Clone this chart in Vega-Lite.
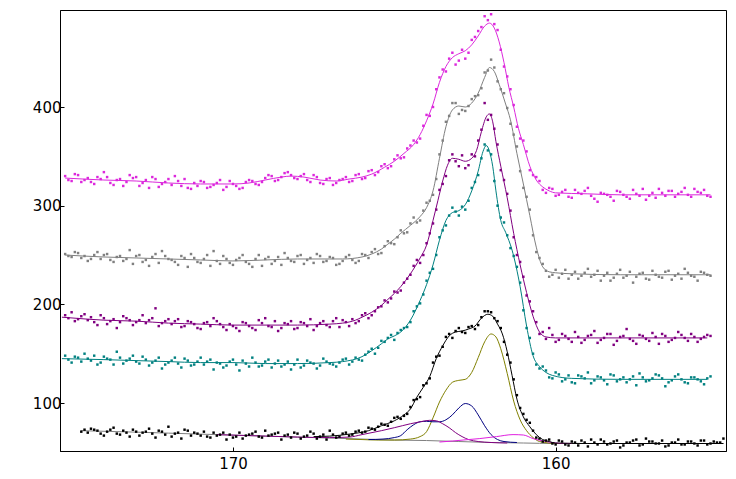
{
"$schema":"https://vega.github.io/schema/vega-lite/v6.json",
"width":666,"height":441,
"autosize":{"type":"none"},
"padding":{"left":60,"top":10,"right":10,"bottom":28},
"config":{"view":{"stroke":"#000","strokeWidth":1},"font":"DejaVu Sans",
"axis":{"grid":false,"title":null,"domainColor":"#000","tickColor":"#000","labelColor":"#000","labelFontSize":15,"labelFont":"DejaVu Sans","tickSize":-4}},
"datasets":{
"lines":[
{"s":"bg","x":174.7,"y":72},{"s":"bg","x":173,"y":70.5},{"s":"bg","x":172,"y":69.5},{"s":"bg","x":171,"y":68.5},{"s":"bg","x":170,"y":67.5},{"s":"bg","x":169,"y":66.5},{"s":"bg","x":168,"y":65.5},{"s":"bg","x":167,"y":64.5},{"s":"bg","x":166,"y":63.5},{"s":"bg","x":165,"y":62.5},{"s":"bg","x":164,"y":62},{"s":"bg","x":163,"y":61},{"s":"bg","x":162,"y":60},{"s":"bg","x":161,"y":59.5},{"s":"bg","x":160,"y":59},{"s":"bg","x":154.8,"y":59},
{"s":"ol","x":166.5,"y":63.5},{"s":"ol","x":166,"y":63},{"s":"ol","x":165.5,"y":62.5},{"s":"ol","x":165,"y":62.5},{"s":"ol","x":164.5,"y":63.5},{"s":"ol","x":164.2,"y":66},{"s":"ol","x":164,"y":71},{"s":"ol","x":163.8,"y":85},{"s":"ol","x":163.6,"y":101},{"s":"ol","x":163.4,"y":113},{"s":"ol","x":163.2,"y":121},{"s":"ol","x":163,"y":123},{"s":"ol","x":162.8,"y":124},{"s":"ol","x":162.6,"y":131},{"s":"ol","x":162.4,"y":146},{"s":"ol","x":162.2,"y":162},{"s":"ol","x":162,"y":170},{"s":"ol","x":161.85,"y":167},{"s":"ol","x":161.7,"y":155},{"s":"ol","x":161.5,"y":130},{"s":"ol","x":161.3,"y":102},{"s":"ol","x":161.1,"y":83},{"s":"ol","x":160.9,"y":72},{"s":"ol","x":160.7,"y":65},{"s":"ol","x":160.5,"y":61},{"s":"ol","x":160.2,"y":59.5},{"s":"ol","x":160,"y":59},{"s":"ol","x":159.5,"y":59},
{"s":"nv","x":165.8,"y":63},{"s":"nv","x":165.35,"y":63.5},{"s":"nv","x":165,"y":65},{"s":"nv","x":164.8,"y":67},{"s":"nv","x":164.6,"y":73},{"s":"nv","x":164.4,"y":78},{"s":"nv","x":164.2,"y":81},{"s":"nv","x":164,"y":81.5},{"s":"nv","x":163.8,"y":81},{"s":"nv","x":163.6,"y":81},{"s":"nv","x":163.4,"y":83},{"s":"nv","x":163.2,"y":88},{"s":"nv","x":163,"y":95},{"s":"nv","x":162.8,"y":99.5},{"s":"nv","x":162.6,"y":97},{"s":"nv","x":162.4,"y":88},{"s":"nv","x":162.2,"y":77},{"s":"nv","x":162,"y":68},{"s":"nv","x":161.8,"y":63},{"s":"nv","x":161.6,"y":61},{"s":"nv","x":161.2,"y":60},
{"s":"pc","x":170.5,"y":68},{"s":"pc","x":169,"y":66.5},{"s":"pc","x":168,"y":65.5},{"s":"pc","x":167,"y":65},{"s":"pc","x":166.4,"y":65.5},{"s":"pc","x":166,"y":68},{"s":"pc","x":165.4,"y":72},{"s":"pc","x":165,"y":75},{"s":"pc","x":164.5,"y":79},{"s":"pc","x":164.2,"y":81},{"s":"pc","x":163.9,"y":82.5},{"s":"pc","x":163.7,"y":82},{"s":"pc","x":163.5,"y":79},{"s":"pc","x":163.3,"y":75},{"s":"pc","x":163.1,"y":70},{"s":"pc","x":162.9,"y":66},{"s":"pc","x":162.7,"y":63},{"s":"pc","x":162.4,"y":61},{"s":"pc","x":162,"y":60},{"s":"pc","x":161.5,"y":59.5},
{"s":"mg","x":163.6,"y":60.5},{"s":"mg","x":163.2,"y":61.5},{"s":"mg","x":162.87,"y":62.5},{"s":"mg","x":162.35,"y":64},{"s":"mg","x":161.83,"y":66},{"s":"mg","x":161.32,"y":68},{"s":"mg","x":161,"y":67.6},{"s":"mg","x":160.7,"y":64},{"s":"mg","x":160.3,"y":61},{"s":"mg","x":159.9,"y":59.2},{"s":"mg","x":159.5,"y":59},
{"s":"k","x":167.5,"y":66},{"s":"k","x":167,"y":66.5},{"s":"k","x":166.4,"y":68.5},{"s":"k","x":165.8,"y":72},{"s":"k","x":165.4,"y":77},{"s":"k","x":165,"y":82},{"s":"k","x":164.7,"y":88},{"s":"k","x":164.5,"y":94},{"s":"k","x":164.3,"y":106},{"s":"k","x":164.1,"y":116},{"s":"k","x":163.9,"y":127},{"s":"k","x":163.7,"y":145},{"s":"k","x":163.5,"y":158},{"s":"k","x":163.3,"y":168},{"s":"k","x":163.1,"y":172},{"s":"k","x":162.9,"y":173},{"s":"k","x":162.7,"y":175},{"s":"k","x":162.5,"y":178},{"s":"k","x":162.3,"y":186},{"s":"k","x":162.1,"y":190},{"s":"k","x":161.95,"y":188},{"s":"k","x":161.8,"y":180},{"s":"k","x":161.65,"y":170},{"s":"k","x":161.5,"y":152},{"s":"k","x":161.35,"y":128},{"s":"k","x":161.2,"y":104},{"s":"k","x":161,"y":86},{"s":"k","x":160.8,"y":76},{"s":"k","x":160.6,"y":68},{"s":"k","x":160.4,"y":63},{"s":"k","x":160.2,"y":61},{"s":"k","x":160,"y":59.5},{"s":"k","x":159,"y":59},{"s":"k","x":154.8,"y":59},
{"s":"t","x":175.3,"y":145},{"s":"t","x":174,"y":144},{"s":"t","x":173,"y":143},{"s":"t","x":172,"y":142},{"s":"t","x":171,"y":141},{"s":"t","x":170,"y":141},{"s":"t","x":169,"y":140},{"s":"t","x":168,"y":140},{"s":"t","x":167,"y":141},{"s":"t","x":166.6,"y":142},{"s":"t","x":166,"y":147},{"s":"t","x":165.7,"y":153},{"s":"t","x":165.4,"y":160},{"s":"t","x":165.2,"y":165},{"s":"t","x":165,"y":168},{"s":"t","x":164.8,"y":172},{"s":"t","x":164.5,"y":184},{"s":"t","x":164.2,"y":204},{"s":"t","x":164,"y":220},{"s":"t","x":163.8,"y":240},{"s":"t","x":163.6,"y":265},{"s":"t","x":163.4,"y":285},{"s":"t","x":163.2,"y":293},{"s":"t","x":163,"y":295},{"s":"t","x":162.8,"y":301},{"s":"t","x":162.6,"y":315},{"s":"t","x":162.4,"y":335},{"s":"t","x":162.25,"y":355},{"s":"t","x":162.15,"y":361},{"s":"t","x":162.05,"y":355},{"s":"t","x":161.95,"y":340},{"s":"t","x":161.85,"y":315},{"s":"t","x":161.7,"y":285},{"s":"t","x":161.55,"y":273},{"s":"t","x":161.35,"y":255},{"s":"t","x":161.1,"y":218},{"s":"t","x":160.9,"y":178},{"s":"t","x":160.7,"y":148},{"s":"t","x":160.5,"y":137},{"s":"t","x":160.3,"y":131},{"s":"t","x":160.1,"y":128},{"s":"t","x":159.5,"y":125},{"s":"t","x":158,"y":124},{"s":"t","x":155.3,"y":124},
{"s":"u","x":175.3,"y":187},{"s":"u","x":174.5,"y":185},{"s":"u","x":174,"y":184},{"s":"u","x":173,"y":183},{"s":"u","x":172,"y":181},{"s":"u","x":171,"y":180},{"s":"u","x":170,"y":179},{"s":"u","x":168,"y":179},{"s":"u","x":167,"y":180},{"s":"u","x":166.6,"y":181},{"s":"u","x":166.2,"y":184},{"s":"u","x":166,"y":187},{"s":"u","x":165.7,"y":192},{"s":"u","x":165.4,"y":199},{"s":"u","x":165.2,"y":205},{"s":"u","x":165,"y":211},{"s":"u","x":164.8,"y":218},{"s":"u","x":164.5,"y":231},{"s":"u","x":164.2,"y":247},{"s":"u","x":164,"y":260},{"s":"u","x":163.8,"y":285},{"s":"u","x":163.65,"y":305},{"s":"u","x":163.5,"y":325},{"s":"u","x":163.35,"y":341},{"s":"u","x":163.2,"y":348},{"s":"u","x":163,"y":347},{"s":"u","x":162.8,"y":345},{"s":"u","x":162.6,"y":348},{"s":"u","x":162.45,"y":356},{"s":"u","x":162.3,"y":375},{"s":"u","x":162.15,"y":390},{"s":"u","x":162.05,"y":393},{"s":"u","x":161.95,"y":385},{"s":"u","x":161.85,"y":365},{"s":"u","x":161.7,"y":340},{"s":"u","x":161.5,"y":308},{"s":"u","x":161.3,"y":272},{"s":"u","x":161.1,"y":240},{"s":"u","x":160.9,"y":212},{"s":"u","x":160.7,"y":188},{"s":"u","x":160.5,"y":172},{"s":"u","x":160.3,"y":167},{"s":"u","x":160,"y":166},{"s":"u","x":155.3,"y":166},
{"s":"g","x":175.2,"y":250},{"s":"g","x":174,"y":248},{"s":"g","x":173,"y":247},{"s":"g","x":172,"y":246},{"s":"g","x":171,"y":245},{"s":"g","x":170,"y":244},{"s":"g","x":169,"y":245},{"s":"g","x":168,"y":246},{"s":"g","x":167,"y":246},{"s":"g","x":166.6,"y":246},{"s":"g","x":166,"y":248},{"s":"g","x":165.7,"y":251},{"s":"g","x":165.4,"y":256},{"s":"g","x":165.2,"y":261},{"s":"g","x":165,"y":266},{"s":"g","x":164.8,"y":272},{"s":"g","x":164.5,"y":280},{"s":"g","x":164.2,"y":289},{"s":"g","x":164,"y":298},{"s":"g","x":163.8,"y":315},{"s":"g","x":163.6,"y":348},{"s":"g","x":163.4,"y":380},{"s":"g","x":163.2,"y":397},{"s":"g","x":163,"y":401},{"s":"g","x":162.8,"y":400},{"s":"g","x":162.6,"y":404},{"s":"g","x":162.4,"y":414},{"s":"g","x":162.2,"y":430},{"s":"g","x":162.05,"y":440},{"s":"g","x":161.9,"y":436},{"s":"g","x":161.75,"y":423},{"s":"g","x":161.55,"y":403},{"s":"g","x":161.4,"y":387},{"s":"g","x":161.2,"y":353},{"s":"g","x":161,"y":322},{"s":"g","x":160.8,"y":290},{"s":"g","x":160.6,"y":258},{"s":"g","x":160.4,"y":238},{"s":"g","x":160.2,"y":233},{"s":"g","x":160,"y":232},{"s":"g","x":159.5,"y":231},{"s":"g","x":158,"y":230},{"s":"g","x":155.2,"y":230},
{"s":"p","x":175.2,"y":328},{"s":"p","x":174,"y":326},{"s":"p","x":173,"y":325},{"s":"p","x":172,"y":323},{"s":"p","x":171,"y":322},{"s":"p","x":170,"y":322},{"s":"p","x":169.5,"y":323},{"s":"p","x":169,"y":326},{"s":"p","x":168.5,"y":329},{"s":"p","x":168.2,"y":330},{"s":"p","x":167.8,"y":329},{"s":"p","x":167.3,"y":326},{"s":"p","x":166.8,"y":325},{"s":"p","x":166.4,"y":327},{"s":"p","x":166,"y":329},{"s":"p","x":165.7,"y":332},{"s":"p","x":165.3,"y":339},{"s":"p","x":165,"y":345},{"s":"p","x":164.7,"y":353},{"s":"p","x":164.4,"y":362},{"s":"p","x":164.2,"y":372},{"s":"p","x":164,"y":386},{"s":"p","x":163.8,"y":403},{"s":"p","x":163.6,"y":425},{"s":"p","x":163.4,"y":441},{"s":"p","x":163.2,"y":450},{"s":"p","x":163,"y":454},{"s":"p","x":162.8,"y":457},{"s":"p","x":162.6,"y":463},{"s":"p","x":162.4,"y":472},{"s":"p","x":162.2,"y":482},{"s":"p","x":162.05,"y":485},{"s":"p","x":161.9,"y":480},{"s":"p","x":161.75,"y":466},{"s":"p","x":161.6,"y":445},{"s":"p","x":161.45,"y":420},{"s":"p","x":161.3,"y":400},{"s":"p","x":161.15,"y":378},{"s":"p","x":161,"y":362},{"s":"p","x":160.8,"y":340},{"s":"p","x":160.6,"y":326},{"s":"p","x":160.4,"y":319},{"s":"p","x":160.2,"y":315},{"s":"p","x":160,"y":313},{"s":"p","x":159,"y":312},{"s":"p","x":158,"y":311},{"s":"p","x":155.2,"y":311}
],
"pts":[
{"s":"p","x":175.2,"y":330},{"s":"p","x":175.0,"y":325},{"s":"p","x":174.8,"y":331},{"s":"p","x":174.6,"y":326},{"s":"p","x":174.4,"y":324},{"s":"p","x":174.2,"y":329},{"s":"p","x":174.0,"y":334},{"s":"p","x":173.8,"y":323},{"s":"p","x":173.6,"y":326},{"s":"p","x":173.4,"y":320},{"s":"p","x":173.2,"y":331},{"s":"p","x":173.0,"y":329},{"s":"p","x":172.8,"y":323},{"s":"p","x":172.6,"y":318},{"s":"p","x":172.4,"y":327},{"s":"p","x":172.2,"y":322},{"s":"p","x":172.0,"y":327},{"s":"p","x":171.8,"y":330},{"s":"p","x":171.6,"y":320},{"s":"p","x":171.4,"y":318},{"s":"p","x":171.2,"y":323},{"s":"p","x":171.0,"y":325},{"s":"p","x":170.8,"y":318},{"s":"p","x":170.6,"y":321},{"s":"p","x":170.4,"y":326},{"s":"p","x":170.2,"y":319},{"s":"p","x":170.0,"y":322},{"s":"p","x":169.8,"y":317},{"s":"p","x":169.6,"y":324},{"s":"p","x":169.4,"y":325},{"s":"p","x":169.2,"y":321},{"s":"p","x":169.0,"y":328},{"s":"p","x":168.8,"y":330},{"s":"p","x":168.6,"y":326},{"s":"p","x":168.4,"y":333},{"s":"p","x":168.2,"y":331},{"s":"p","x":168.0,"y":327},{"s":"p","x":167.8,"y":332},{"s":"p","x":167.6,"y":324},{"s":"p","x":167.4,"y":329},{"s":"p","x":167.2,"y":322},{"s":"p","x":167.0,"y":328},{"s":"p","x":166.8,"y":323},{"s":"p","x":166.6,"y":327},{"s":"p","x":166.4,"y":324},{"s":"p","x":166.2,"y":331},{"s":"p","x":166.0,"y":327},{"s":"p","x":165.8,"y":335},{"s":"p","x":165.6,"y":331},{"s":"p","x":165.4,"y":340},{"s":"p","x":165.2,"y":338},{"s":"p","x":165.0,"y":347},{"s":"p","x":164.8,"y":348},{"s":"p","x":164.6,"y":358},{"s":"p","x":164.4,"y":366},{"s":"p","x":164.2,"y":368},{"s":"p","x":164.0,"y":392},{"s":"p","x":163.8,"y":400},{"s":"p","x":163.6,"y":430},{"s":"p","x":163.4,"y":436},{"s":"p","x":163.2,"y":455},{"s":"p","x":163.0,"y":447},{"s":"p","x":162.8,"y":449},{"s":"p","x":162.6,"y":468},{"s":"p","x":162.4,"y":477},{"s":"p","x":162.2,"y":492},{"s":"p","x":162.0,"y":494},{"s":"p","x":161.8,"y":478},{"s":"p","x":161.6,"y":441},{"s":"p","x":161.4,"y":418},{"s":"p","x":161.2,"y":380},{"s":"p","x":161.0,"y":366},{"s":"p","x":160.8,"y":336},{"s":"p","x":160.6,"y":329},{"s":"p","x":160.4,"y":316},{"s":"p","x":160.2,"y":318},{"s":"p","x":160.0,"y":310},{"s":"p","x":159.8,"y":314},{"s":"p","x":159.6,"y":309},{"s":"p","x":159.4,"y":316},{"s":"p","x":159.2,"y":312},{"s":"p","x":159.0,"y":318},{"s":"p","x":158.8,"y":307},{"s":"p","x":158.6,"y":313},{"s":"p","x":158.4,"y":311},{"s":"p","x":158.2,"y":305},{"s":"p","x":158.0,"y":314},{"s":"p","x":157.8,"y":309},{"s":"p","x":157.6,"y":316},{"s":"p","x":157.4,"y":310},{"s":"p","x":157.2,"y":306},{"s":"p","x":157.0,"y":313},{"s":"p","x":156.8,"y":317},{"s":"p","x":156.6,"y":310},{"s":"p","x":156.4,"y":315},{"s":"p","x":156.2,"y":312},{"s":"p","x":156.0,"y":318},{"s":"p","x":155.8,"y":309},{"s":"p","x":155.6,"y":314},{"s":"p","x":155.4,"y":316},{"s":"p","x":155.2,"y":309},
{"s":"p","x":175.1,"y":326},{"s":"p","x":174.9,"y":332},{"s":"p","x":174.7,"y":324},{"s":"p","x":174.5,"y":328},{"s":"p","x":174.3,"y":322},{"s":"p","x":174.1,"y":327},{"s":"p","x":173.9,"y":329},{"s":"p","x":173.7,"y":321},{"s":"p","x":173.5,"y":327},{"s":"p","x":173.3,"y":324},{"s":"p","x":173.1,"y":328},{"s":"p","x":172.9,"y":320},{"s":"p","x":172.7,"y":326},{"s":"p","x":172.5,"y":329},{"s":"p","x":172.3,"y":319},{"s":"p","x":172.1,"y":324},{"s":"p","x":171.9,"y":321},{"s":"p","x":171.7,"y":325},{"s":"p","x":171.5,"y":327},{"s":"p","x":171.3,"y":317},{"s":"p","x":171.1,"y":320},{"s":"p","x":170.9,"y":324},{"s":"p","x":170.7,"y":319},{"s":"p","x":170.5,"y":323},{"s":"p","x":170.3,"y":316},{"s":"p","x":170.1,"y":325},{"s":"p","x":169.9,"y":320},{"s":"p","x":169.7,"y":318},{"s":"p","x":169.5,"y":326},{"s":"p","x":169.3,"y":322},{"s":"p","x":169.1,"y":324},{"s":"p","x":168.9,"y":331},{"s":"p","x":168.7,"y":325},{"s":"p","x":168.5,"y":329},{"s":"p","x":168.3,"y":334},{"s":"p","x":168.1,"y":328},{"s":"p","x":167.9,"y":330},{"s":"p","x":167.7,"y":326},{"s":"p","x":167.5,"y":331},{"s":"p","x":167.3,"y":323},{"s":"p","x":167.1,"y":327},{"s":"p","x":166.9,"y":321},{"s":"p","x":166.7,"y":326},{"s":"p","x":166.5,"y":329},{"s":"p","x":166.3,"y":325},{"s":"p","x":166.1,"y":332},{"s":"p","x":165.9,"y":328},{"s":"p","x":165.7,"y":336},{"s":"p","x":165.5,"y":334},{"s":"p","x":165.3,"y":342},{"s":"p","x":165.1,"y":340},{"s":"p","x":164.9,"y":351},{"s":"p","x":164.7,"y":349},{"s":"p","x":164.5,"y":361},{"s":"p","x":164.3,"y":364},{"s":"p","x":164.1,"y":381},{"s":"p","x":163.9,"y":391},{"s":"p","x":163.7,"y":418},{"s":"p","x":163.5,"y":438},{"s":"p","x":163.3,"y":449},{"s":"p","x":163.1,"y":443},{"s":"p","x":162.9,"y":458},{"s":"p","x":162.7,"y":455},{"s":"p","x":162.5,"y":471},{"s":"p","x":162.3,"y":481},{"s":"p","x":162.1,"y":488},{"s":"p","x":161.9,"y":484},{"s":"p","x":161.7,"y":458},{"s":"p","x":161.5,"y":431},{"s":"p","x":161.3,"y":402},{"s":"p","x":161.1,"y":368},{"s":"p","x":160.9,"y":355},{"s":"p","x":160.7,"y":331},{"s":"p","x":160.5,"y":325},{"s":"p","x":160.3,"y":313},{"s":"p","x":160.1,"y":317},{"s":"p","x":159.9,"y":311},{"s":"p","x":159.7,"y":316},{"s":"p","x":159.5,"y":308},{"s":"p","x":159.3,"y":313},{"s":"p","x":159.1,"y":315},{"s":"p","x":158.9,"y":310},{"s":"p","x":158.7,"y":304},{"s":"p","x":158.5,"y":312},{"s":"p","x":158.3,"y":309},{"s":"p","x":158.1,"y":315},{"s":"p","x":157.9,"y":311},{"s":"p","x":157.7,"y":307},{"s":"p","x":157.5,"y":312},{"s":"p","x":157.3,"y":317},{"s":"p","x":157.1,"y":310},{"s":"p","x":156.9,"y":308},{"s":"p","x":156.7,"y":313},{"s":"p","x":156.5,"y":315},{"s":"p","x":156.3,"y":309},{"s":"p","x":156.1,"y":314},{"s":"p","x":155.9,"y":311},{"s":"p","x":155.7,"y":317},{"s":"p","x":155.5,"y":313},{"s":"p","x":155.3,"y":310},
{"s":"g","x":175.2,"y":251},{"s":"g","x":175.0,"y":248},{"s":"g","x":174.8,"y":252},{"s":"g","x":174.6,"y":249},{"s":"g","x":174.4,"y":246},{"s":"g","x":174.2,"y":253},{"s":"g","x":174.0,"y":250},{"s":"g","x":173.8,"y":245},{"s":"g","x":173.6,"y":248},{"s":"g","x":173.4,"y":244},{"s":"g","x":173.2,"y":255},{"s":"g","x":173.0,"y":249},{"s":"g","x":172.8,"y":243},{"s":"g","x":172.6,"y":239},{"s":"g","x":172.4,"y":251},{"s":"g","x":172.2,"y":254},{"s":"g","x":172.0,"y":246},{"s":"g","x":171.8,"y":243},{"s":"g","x":171.6,"y":249},{"s":"g","x":171.4,"y":238},{"s":"g","x":171.2,"y":247},{"s":"g","x":171.0,"y":242},{"s":"g","x":170.8,"y":250},{"s":"g","x":170.6,"y":254},{"s":"g","x":170.4,"y":241},{"s":"g","x":170.2,"y":246},{"s":"g","x":170.0,"y":240},{"s":"g","x":169.8,"y":247},{"s":"g","x":169.6,"y":243},{"s":"g","x":169.4,"y":238},{"s":"g","x":169.2,"y":250},{"s":"g","x":169.0,"y":246},{"s":"g","x":168.8,"y":241},{"s":"g","x":168.6,"y":248},{"s":"g","x":168.4,"y":252},{"s":"g","x":168.2,"y":244},{"s":"g","x":168.0,"y":249},{"s":"g","x":167.8,"y":241},{"s":"g","x":167.6,"y":247},{"s":"g","x":167.4,"y":251},{"s":"g","x":167.2,"y":243},{"s":"g","x":167.0,"y":248},{"s":"g","x":166.8,"y":240},{"s":"g","x":166.6,"y":244},{"s":"g","x":166.4,"y":250},{"s":"g","x":166.2,"y":242},{"s":"g","x":166.0,"y":251},{"s":"g","x":165.8,"y":247},{"s":"g","x":165.6,"y":256},{"s":"g","x":165.4,"y":252},{"s":"g","x":165.2,"y":264},{"s":"g","x":165.0,"y":261},{"s":"g","x":164.8,"y":275},{"s":"g","x":164.6,"y":273},{"s":"g","x":164.4,"y":288},{"s":"g","x":164.2,"y":285},{"s":"g","x":164.0,"y":303},{"s":"g","x":163.8,"y":311},{"s":"g","x":163.6,"y":352},{"s":"g","x":163.4,"y":385},{"s":"g","x":163.2,"y":404},{"s":"g","x":163.0,"y":393},{"s":"g","x":162.8,"y":396},{"s":"g","x":162.6,"y":408},{"s":"g","x":162.4,"y":412},{"s":"g","x":162.2,"y":435},{"s":"g","x":162.0,"y":448},{"s":"g","x":161.8,"y":426},{"s":"g","x":161.6,"y":414},{"s":"g","x":161.4,"y":383},{"s":"g","x":161.2,"y":360},{"s":"g","x":161.0,"y":318},{"s":"g","x":160.8,"y":296},{"s":"g","x":160.6,"y":253},{"s":"g","x":160.4,"y":241},{"s":"g","x":160.2,"y":228},{"s":"g","x":160.0,"y":235},{"s":"g","x":159.8,"y":231},{"s":"g","x":159.6,"y":226},{"s":"g","x":159.4,"y":233},{"s":"g","x":159.2,"y":229},{"s":"g","x":159.0,"y":236},{"s":"g","x":158.8,"y":230},{"s":"g","x":158.6,"y":224},{"s":"g","x":158.4,"y":232},{"s":"g","x":158.2,"y":227},{"s":"g","x":158.0,"y":235},{"s":"g","x":157.8,"y":229},{"s":"g","x":157.6,"y":222},{"s":"g","x":157.4,"y":231},{"s":"g","x":157.2,"y":226},{"s":"g","x":157.0,"y":234},{"s":"g","x":156.8,"y":228},{"s":"g","x":156.6,"y":233},{"s":"g","x":156.4,"y":225},{"s":"g","x":156.2,"y":231},{"s":"g","x":156.0,"y":236},{"s":"g","x":155.8,"y":229},{"s":"g","x":155.6,"y":224},{"s":"g","x":155.4,"y":232},{"s":"g","x":155.2,"y":229},
{"s":"g","x":175.1,"y":249},{"s":"g","x":174.9,"y":253},{"s":"g","x":174.7,"y":247},{"s":"g","x":174.5,"y":244},{"s":"g","x":174.3,"y":250},{"s":"g","x":174.1,"y":246},{"s":"g","x":173.9,"y":251},{"s":"g","x":173.7,"y":243},{"s":"g","x":173.5,"y":249},{"s":"g","x":173.3,"y":246},{"s":"g","x":173.1,"y":241},{"s":"g","x":172.9,"y":250},{"s":"g","x":172.7,"y":245},{"s":"g","x":172.5,"y":248},{"s":"g","x":172.3,"y":242},{"s":"g","x":172.1,"y":249},{"s":"g","x":171.9,"y":245},{"s":"g","x":171.7,"y":240},{"s":"g","x":171.5,"y":247},{"s":"g","x":171.3,"y":251},{"s":"g","x":171.1,"y":243},{"s":"g","x":170.9,"y":246},{"s":"g","x":170.7,"y":239},{"s":"g","x":170.5,"y":244},{"s":"g","x":170.3,"y":249},{"s":"g","x":170.1,"y":242},{"s":"g","x":169.9,"y":245},{"s":"g","x":169.7,"y":250},{"s":"g","x":169.5,"y":241},{"s":"g","x":169.3,"y":246},{"s":"g","x":169.1,"y":239},{"s":"g","x":168.9,"y":248},{"s":"g","x":168.7,"y":244},{"s":"g","x":168.5,"y":240},{"s":"g","x":168.3,"y":247},{"s":"g","x":168.1,"y":243},{"s":"g","x":167.9,"y":250},{"s":"g","x":167.7,"y":245},{"s":"g","x":167.5,"y":242},{"s":"g","x":167.3,"y":249},{"s":"g","x":167.1,"y":244},{"s":"g","x":166.9,"y":247},{"s":"g","x":166.7,"y":241},{"s":"g","x":166.5,"y":248},{"s":"g","x":166.3,"y":245},{"s":"g","x":166.1,"y":244},{"s":"g","x":165.9,"y":250},{"s":"g","x":165.7,"y":253},{"s":"g","x":165.5,"y":251},{"s":"g","x":165.3,"y":259},{"s":"g","x":165.1,"y":262},{"s":"g","x":164.9,"y":268},{"s":"g","x":164.7,"y":272},{"s":"g","x":164.5,"y":282},{"s":"g","x":164.3,"y":283},{"s":"g","x":164.1,"y":295},{"s":"g","x":163.9,"y":305},{"s":"g","x":163.7,"y":327},{"s":"g","x":163.5,"y":366},{"s":"g","x":163.3,"y":391},{"s":"g","x":163.1,"y":404},{"s":"g","x":162.9,"y":397},{"s":"g","x":162.7,"y":401},{"s":"g","x":162.5,"y":411},{"s":"g","x":162.3,"y":419},{"s":"g","x":162.1,"y":437},{"s":"g","x":161.9,"y":440},{"s":"g","x":161.7,"y":418},{"s":"g","x":161.5,"y":399},{"s":"g","x":161.3,"y":372},{"s":"g","x":161.1,"y":335},{"s":"g","x":160.9,"y":309},{"s":"g","x":160.7,"y":270},{"s":"g","x":160.5,"y":247},{"s":"g","x":160.3,"y":234},{"s":"g","x":160.1,"y":230},{"s":"g","x":159.9,"y":227},{"s":"g","x":159.7,"y":235},{"s":"g","x":159.5,"y":230},{"s":"g","x":159.3,"y":226},{"s":"g","x":159.1,"y":232},{"s":"g","x":158.9,"y":228},{"s":"g","x":158.7,"y":234},{"s":"g","x":158.5,"y":229},{"s":"g","x":158.3,"y":224},{"s":"g","x":158.1,"y":231},{"s":"g","x":157.9,"y":227},{"s":"g","x":157.7,"y":233},{"s":"g","x":157.5,"y":228},{"s":"g","x":157.3,"y":232},{"s":"g","x":157.1,"y":225},{"s":"g","x":156.9,"y":230},{"s":"g","x":156.7,"y":227},{"s":"g","x":156.5,"y":234},{"s":"g","x":156.3,"y":229},{"s":"g","x":156.1,"y":226},{"s":"g","x":155.9,"y":232},{"s":"g","x":155.7,"y":228},{"s":"g","x":155.5,"y":233},{"s":"g","x":155.3,"y":230},
{"s":"u","x":175.2,"y":189},{"s":"u","x":175.0,"y":192},{"s":"u","x":174.8,"y":185},{"s":"u","x":174.6,"y":190},{"s":"u","x":174.4,"y":187},{"s":"u","x":174.2,"y":179},{"s":"u","x":174.0,"y":186},{"s":"u","x":173.8,"y":183},{"s":"u","x":173.6,"y":176},{"s":"u","x":173.4,"y":188},{"s":"u","x":173.2,"y":184},{"s":"u","x":173.0,"y":182},{"s":"u","x":172.8,"y":189},{"s":"u","x":172.6,"y":184},{"s":"u","x":172.4,"y":196},{"s":"u","x":172.2,"y":181},{"s":"u","x":172.0,"y":185},{"s":"u","x":171.8,"y":183},{"s":"u","x":171.6,"y":177},{"s":"u","x":171.4,"y":183},{"s":"u","x":171.2,"y":180},{"s":"u","x":171.0,"y":175},{"s":"u","x":170.8,"y":182},{"s":"u","x":170.6,"y":186},{"s":"u","x":170.4,"y":180},{"s":"u","x":170.2,"y":174},{"s":"u","x":170.0,"y":178},{"s":"u","x":169.8,"y":173},{"s":"u","x":169.6,"y":181},{"s":"u","x":169.4,"y":176},{"s":"u","x":169.2,"y":184},{"s":"u","x":169.0,"y":186},{"s":"u","x":168.8,"y":177},{"s":"u","x":168.6,"y":173},{"s":"u","x":168.4,"y":181},{"s":"u","x":168.2,"y":183},{"s":"u","x":168.0,"y":176},{"s":"u","x":167.8,"y":181},{"s":"u","x":167.6,"y":185},{"s":"u","x":167.4,"y":178},{"s":"u","x":167.2,"y":183},{"s":"u","x":167.0,"y":177},{"s":"u","x":166.8,"y":186},{"s":"u","x":166.6,"y":184},{"s":"u","x":166.4,"y":178},{"s":"u","x":166.2,"y":181},{"s":"u","x":166.0,"y":189},{"s":"u","x":165.8,"y":186},{"s":"u","x":165.6,"y":193},{"s":"u","x":165.4,"y":198},{"s":"u","x":165.2,"y":202},{"s":"u","x":165.0,"y":213},{"s":"u","x":164.8,"y":214},{"s":"u","x":164.6,"y":226},{"s":"u","x":164.4,"y":239},{"s":"u","x":164.2,"y":242},{"s":"u","x":164.0,"y":262},{"s":"u","x":163.8,"y":282},{"s":"u","x":163.6,"y":316},{"s":"u","x":163.4,"y":330},{"s":"u","x":163.2,"y":352},{"s":"u","x":163.0,"y":340},{"s":"u","x":162.8,"y":338},{"s":"u","x":162.6,"y":352},{"s":"u","x":162.4,"y":366},{"s":"u","x":162.2,"y":404},{"s":"u","x":162.0,"y":392},{"s":"u","x":161.8,"y":362},{"s":"u","x":161.6,"y":326},{"s":"u","x":161.4,"y":295},{"s":"u","x":161.2,"y":250},{"s":"u","x":161.0,"y":228},{"s":"u","x":160.8,"y":203},{"s":"u","x":160.6,"y":182},{"s":"u","x":160.4,"y":172},{"s":"u","x":160.2,"y":176},{"s":"u","x":160.0,"y":162},{"s":"u","x":159.8,"y":170},{"s":"u","x":159.6,"y":165},{"s":"u","x":159.4,"y":172},{"s":"u","x":159.2,"y":161},{"s":"u","x":159.0,"y":168},{"s":"u","x":158.8,"y":173},{"s":"u","x":158.6,"y":164},{"s":"u","x":158.4,"y":170},{"s":"u","x":158.2,"y":159},{"s":"u","x":158.0,"y":167},{"s":"u","x":157.8,"y":175},{"s":"u","x":157.6,"y":163},{"s":"u","x":157.4,"y":169},{"s":"u","x":157.2,"y":165},{"s":"u","x":157.0,"y":171},{"s":"u","x":156.8,"y":160},{"s":"u","x":156.6,"y":168},{"s":"u","x":156.4,"y":164},{"s":"u","x":156.2,"y":172},{"s":"u","x":156.0,"y":166},{"s":"u","x":155.8,"y":170},{"s":"u","x":155.6,"y":162},{"s":"u","x":155.4,"y":167},{"s":"u","x":155.2,"y":168},
{"s":"u","x":175.1,"y":186},{"s":"u","x":174.9,"y":183},{"s":"u","x":174.7,"y":188},{"s":"u","x":174.5,"y":184},{"s":"u","x":174.3,"y":182},{"s":"u","x":174.1,"y":189},{"s":"u","x":173.9,"y":180},{"s":"u","x":173.7,"y":185},{"s":"u","x":173.5,"y":182},{"s":"u","x":173.3,"y":186},{"s":"u","x":173.1,"y":179},{"s":"u","x":172.9,"y":184},{"s":"u","x":172.7,"y":181},{"s":"u","x":172.5,"y":186},{"s":"u","x":172.3,"y":178},{"s":"u","x":172.1,"y":183},{"s":"u","x":171.9,"y":180},{"s":"u","x":171.7,"y":185},{"s":"u","x":171.5,"y":178},{"s":"u","x":171.3,"y":182},{"s":"u","x":171.1,"y":176},{"s":"u","x":170.9,"y":181},{"s":"u","x":170.7,"y":178},{"s":"u","x":170.5,"y":183},{"s":"u","x":170.3,"y":177},{"s":"u","x":170.1,"y":180},{"s":"u","x":169.9,"y":176},{"s":"u","x":169.7,"y":182},{"s":"u","x":169.5,"y":178},{"s":"u","x":169.3,"y":174},{"s":"u","x":169.1,"y":181},{"s":"u","x":168.9,"y":178},{"s":"u","x":168.7,"y":183},{"s":"u","x":168.5,"y":176},{"s":"u","x":168.3,"y":180},{"s":"u","x":168.1,"y":175},{"s":"u","x":167.9,"y":182},{"s":"u","x":167.7,"y":178},{"s":"u","x":167.5,"y":174},{"s":"u","x":167.3,"y":181},{"s":"u","x":167.1,"y":179},{"s":"u","x":166.9,"y":183},{"s":"u","x":166.7,"y":177},{"s":"u","x":166.5,"y":182},{"s":"u","x":166.3,"y":185},{"s":"u","x":166.1,"y":183},{"s":"u","x":165.9,"y":191},{"s":"u","x":165.7,"y":189},{"s":"u","x":165.5,"y":197},{"s":"u","x":165.3,"y":204},{"s":"u","x":165.1,"y":206},{"s":"u","x":164.9,"y":212},{"s":"u","x":164.7,"y":222},{"s":"u","x":164.5,"y":230},{"s":"u","x":164.3,"y":245},{"s":"u","x":164.1,"y":250},{"s":"u","x":163.9,"y":272},{"s":"u","x":163.7,"y":296},{"s":"u","x":163.5,"y":322},{"s":"u","x":163.3,"y":346},{"s":"u","x":163.1,"y":345},{"s":"u","x":162.9,"y":351},{"s":"u","x":162.7,"y":341},{"s":"u","x":162.5,"y":350},{"s":"u","x":162.3,"y":377},{"s":"u","x":162.1,"y":387},{"s":"u","x":161.9,"y":378},{"s":"u","x":161.7,"y":336},{"s":"u","x":161.5,"y":312},{"s":"u","x":161.3,"y":268},{"s":"u","x":161.1,"y":243},{"s":"u","x":160.9,"y":209},{"s":"u","x":160.7,"y":193},{"s":"u","x":160.5,"y":170},{"s":"u","x":160.3,"y":165},{"s":"u","x":160.1,"y":169},{"s":"u","x":159.9,"y":164},{"s":"u","x":159.7,"y":168},{"s":"u","x":159.5,"y":162},{"s":"u","x":159.3,"y":167},{"s":"u","x":159.1,"y":164},{"s":"u","x":158.9,"y":169},{"s":"u","x":158.7,"y":161},{"s":"u","x":158.5,"y":166},{"s":"u","x":158.3,"y":170},{"s":"u","x":158.1,"y":163},{"s":"u","x":157.9,"y":168},{"s":"u","x":157.7,"y":165},{"s":"u","x":157.5,"y":160},{"s":"u","x":157.3,"y":168},{"s":"u","x":157.1,"y":163},{"s":"u","x":156.9,"y":167},{"s":"u","x":156.7,"y":170},{"s":"u","x":156.5,"y":162},{"s":"u","x":156.3,"y":166},{"s":"u","x":156.1,"y":169},{"s":"u","x":155.9,"y":163},{"s":"u","x":155.7,"y":167},{"s":"u","x":155.5,"y":165},{"s":"u","x":155.3,"y":169},
{"s":"t","x":175.2,"y":148},{"s":"t","x":175.0,"y":141},{"s":"t","x":174.8,"y":146},{"s":"t","x":174.6,"y":150},{"s":"t","x":174.4,"y":143},{"s":"t","x":174.2,"y":139},{"s":"t","x":174.0,"y":147},{"s":"t","x":173.8,"y":144},{"s":"t","x":173.6,"y":152},{"s":"t","x":173.4,"y":140},{"s":"t","x":173.2,"y":145},{"s":"t","x":173.0,"y":142},{"s":"t","x":172.8,"y":147},{"s":"t","x":172.6,"y":138},{"s":"t","x":172.4,"y":143},{"s":"t","x":172.2,"y":135},{"s":"t","x":172.0,"y":141},{"s":"t","x":171.8,"y":146},{"s":"t","x":171.6,"y":136},{"s":"t","x":171.4,"y":143},{"s":"t","x":171.2,"y":139},{"s":"t","x":171.0,"y":146},{"s":"t","x":170.8,"y":142},{"s":"t","x":170.6,"y":134},{"s":"t","x":170.4,"y":140},{"s":"t","x":170.2,"y":138},{"s":"t","x":170.0,"y":144},{"s":"t","x":169.8,"y":133},{"s":"t","x":169.6,"y":140},{"s":"t","x":169.4,"y":146},{"s":"t","x":169.2,"y":137},{"s":"t","x":169.0,"y":142},{"s":"t","x":168.8,"y":136},{"s":"t","x":168.6,"y":143},{"s":"t","x":168.4,"y":139},{"s":"t","x":168.2,"y":134},{"s":"t","x":168.0,"y":144},{"s":"t","x":167.8,"y":138},{"s":"t","x":167.6,"y":141},{"s":"t","x":167.4,"y":135},{"s":"t","x":167.2,"y":145},{"s":"t","x":167.0,"y":140},{"s":"t","x":166.8,"y":137},{"s":"t","x":166.6,"y":144},{"s":"t","x":166.4,"y":139},{"s":"t","x":166.2,"y":146},{"s":"t","x":166.0,"y":143},{"s":"t","x":165.8,"y":152},{"s":"t","x":165.6,"y":150},{"s":"t","x":165.4,"y":163},{"s":"t","x":165.2,"y":166},{"s":"t","x":165.0,"y":164},{"s":"t","x":164.8,"y":174},{"s":"t","x":164.6,"y":177},{"s":"t","x":164.4,"y":193},{"s":"t","x":164.2,"y":201},{"s":"t","x":164.0,"y":224},{"s":"t","x":163.8,"y":236},{"s":"t","x":163.6,"y":268},{"s":"t","x":163.4,"y":280},{"s":"t","x":163.2,"y":298},{"s":"t","x":163.0,"y":290},{"s":"t","x":162.8,"y":296},{"s":"t","x":162.6,"y":318},{"s":"t","x":162.4,"y":331},{"s":"t","x":162.2,"y":362},{"s":"t","x":162.0,"y":352},{"s":"t","x":161.8,"y":300},{"s":"t","x":161.6,"y":283},{"s":"t","x":161.4,"y":257},{"s":"t","x":161.2,"y":238},{"s":"t","x":161.0,"y":194},{"s":"t","x":160.8,"y":166},{"s":"t","x":160.6,"y":139},{"s":"t","x":160.4,"y":137},{"s":"t","x":160.2,"y":126},{"s":"t","x":160.0,"y":131},{"s":"t","x":159.8,"y":122},{"s":"t","x":159.6,"y":128},{"s":"t","x":159.4,"y":120},{"s":"t","x":159.2,"y":127},{"s":"t","x":159.0,"y":131},{"s":"t","x":158.8,"y":123},{"s":"t","x":158.6,"y":126},{"s":"t","x":158.4,"y":119},{"s":"t","x":158.2,"y":128},{"s":"t","x":158.0,"y":124},{"s":"t","x":157.8,"y":121},{"s":"t","x":157.6,"y":127},{"s":"t","x":157.4,"y":130},{"s":"t","x":157.2,"y":122},{"s":"t","x":157.0,"y":125},{"s":"t","x":156.8,"y":128},{"s":"t","x":156.6,"y":117},{"s":"t","x":156.4,"y":123},{"s":"t","x":156.2,"y":129},{"s":"t","x":156.0,"y":121},{"s":"t","x":155.8,"y":126},{"s":"t","x":155.6,"y":124},{"s":"t","x":155.4,"y":119},{"s":"t","x":155.2,"y":127},
{"s":"t","x":175.1,"y":144},{"s":"t","x":174.9,"y":147},{"s":"t","x":174.7,"y":142},{"s":"t","x":174.5,"y":145},{"s":"t","x":174.3,"y":148},{"s":"t","x":174.1,"y":141},{"s":"t","x":173.9,"y":145},{"s":"t","x":173.7,"y":139},{"s":"t","x":173.5,"y":146},{"s":"t","x":173.3,"y":143},{"s":"t","x":173.1,"y":148},{"s":"t","x":172.9,"y":140},{"s":"t","x":172.7,"y":144},{"s":"t","x":172.5,"y":141},{"s":"t","x":172.3,"y":146},{"s":"t","x":172.1,"y":139},{"s":"t","x":171.9,"y":143},{"s":"t","x":171.7,"y":140},{"s":"t","x":171.5,"y":145},{"s":"t","x":171.3,"y":138},{"s":"t","x":171.1,"y":142},{"s":"t","x":170.9,"y":139},{"s":"t","x":170.7,"y":144},{"s":"t","x":170.5,"y":141},{"s":"t","x":170.3,"y":136},{"s":"t","x":170.1,"y":142},{"s":"t","x":169.9,"y":139},{"s":"t","x":169.7,"y":143},{"s":"t","x":169.5,"y":137},{"s":"t","x":169.3,"y":141},{"s":"t","x":169.1,"y":138},{"s":"t","x":168.9,"y":144},{"s":"t","x":168.7,"y":140},{"s":"t","x":168.5,"y":137},{"s":"t","x":168.3,"y":142},{"s":"t","x":168.1,"y":139},{"s":"t","x":167.9,"y":136},{"s":"t","x":167.7,"y":143},{"s":"t","x":167.5,"y":140},{"s":"t","x":167.3,"y":138},{"s":"t","x":167.1,"y":142},{"s":"t","x":166.9,"y":139},{"s":"t","x":166.7,"y":141},{"s":"t","x":166.5,"y":145},{"s":"t","x":166.3,"y":142},{"s":"t","x":166.1,"y":144},{"s":"t","x":165.9,"y":149},{"s":"t","x":165.7,"y":155},{"s":"t","x":165.5,"y":156},{"s":"t","x":165.3,"y":162},{"s":"t","x":165.1,"y":169},{"s":"t","x":164.9,"y":171},{"s":"t","x":164.7,"y":176},{"s":"t","x":164.5,"y":182},{"s":"t","x":164.3,"y":198},{"s":"t","x":164.1,"y":210},{"s":"t","x":163.9,"y":232},{"s":"t","x":163.7,"y":250},{"s":"t","x":163.5,"y":275},{"s":"t","x":163.3,"y":290},{"s":"t","x":163.1,"y":294},{"s":"t","x":162.9,"y":299},{"s":"t","x":162.7,"y":305},{"s":"t","x":162.5,"y":324},{"s":"t","x":162.3,"y":348},{"s":"t","x":162.1,"y":356},{"s":"t","x":161.9,"y":325},{"s":"t","x":161.7,"y":288},{"s":"t","x":161.5,"y":270},{"s":"t","x":161.3,"y":249},{"s":"t","x":161.1,"y":222},{"s":"t","x":160.9,"y":176},{"s":"t","x":160.7,"y":150},{"s":"t","x":160.5,"y":135},{"s":"t","x":160.3,"y":133},{"s":"t","x":160.1,"y":125},{"s":"t","x":159.9,"y":129},{"s":"t","x":159.7,"y":124},{"s":"t","x":159.5,"y":121},{"s":"t","x":159.3,"y":128},{"s":"t","x":159.1,"y":125},{"s":"t","x":158.9,"y":120},{"s":"t","x":158.7,"y":127},{"s":"t","x":158.5,"y":123},{"s":"t","x":158.3,"y":129},{"s":"t","x":158.1,"y":122},{"s":"t","x":157.9,"y":126},{"s":"t","x":157.7,"y":124},{"s":"t","x":157.5,"y":118},{"s":"t","x":157.3,"y":126},{"s":"t","x":157.1,"y":123},{"s":"t","x":156.9,"y":129},{"s":"t","x":156.7,"y":125},{"s":"t","x":156.5,"y":121},{"s":"t","x":156.3,"y":127},{"s":"t","x":156.1,"y":124},{"s":"t","x":155.9,"y":120},{"s":"t","x":155.7,"y":126},{"s":"t","x":155.5,"y":122},{"s":"t","x":155.3,"y":125},
{"s":"k","x":174.6,"y":73},{"s":"k","x":174.4,"y":74},{"s":"k","x":174.2,"y":72},{"s":"k","x":174.0,"y":67},{"s":"k","x":173.8,"y":73},{"s":"k","x":173.6,"y":69},{"s":"k","x":173.4,"y":72},{"s":"k","x":173.2,"y":66},{"s":"k","x":173.0,"y":71},{"s":"k","x":172.8,"y":70},{"s":"k","x":172.6,"y":74},{"s":"k","x":172.4,"y":65},{"s":"k","x":172.2,"y":71},{"s":"k","x":172.0,"y":76},{"s":"k","x":171.8,"y":69},{"s":"k","x":171.6,"y":64},{"s":"k","x":171.4,"y":72},{"s":"k","x":171.2,"y":70},{"s":"k","x":171.0,"y":67},{"s":"k","x":170.8,"y":66},{"s":"k","x":170.6,"y":70},{"s":"k","x":170.4,"y":68},{"s":"k","x":170.2,"y":63},{"s":"k","x":170.0,"y":65},{"s":"k","x":169.8,"y":70},{"s":"k","x":169.6,"y":67},{"s":"k","x":169.4,"y":69},{"s":"k","x":169.2,"y":66},{"s":"k","x":169.0,"y":72},{"s":"k","x":168.8,"y":68},{"s":"k","x":168.6,"y":70},{"s":"k","x":168.4,"y":67},{"s":"k","x":168.2,"y":65},{"s":"k","x":168.0,"y":69},{"s":"k","x":167.8,"y":66},{"s":"k","x":167.6,"y":71},{"s":"k","x":167.4,"y":64},{"s":"k","x":167.2,"y":68},{"s":"k","x":167.0,"y":72},{"s":"k","x":166.8,"y":65},{"s":"k","x":166.6,"y":69},{"s":"k","x":166.4,"y":67},{"s":"k","x":166.2,"y":71},{"s":"k","x":166.0,"y":70},{"s":"k","x":165.8,"y":75},{"s":"k","x":165.6,"y":73},{"s":"k","x":165.4,"y":79},{"s":"k","x":165.2,"y":77},{"s":"k","x":165.0,"y":85},{"s":"k","x":164.8,"y":84},{"s":"k","x":164.6,"y":89},{"s":"k","x":164.4,"y":103},{"s":"k","x":164.2,"y":106},{"s":"k","x":164.0,"y":120},{"s":"k","x":163.8,"y":141},{"s":"k","x":163.6,"y":148},{"s":"k","x":163.4,"y":167},{"s":"k","x":163.2,"y":166},{"s":"k","x":163.0,"y":176},{"s":"k","x":162.8,"y":171},{"s":"k","x":162.6,"y":178},{"s":"k","x":162.4,"y":179},{"s":"k","x":162.2,"y":193},{"s":"k","x":162.0,"y":192},{"s":"k","x":161.8,"y":183},{"s":"k","x":161.6,"y":162},{"s":"k","x":161.4,"y":141},{"s":"k","x":161.2,"y":108},{"s":"k","x":161.0,"y":89},{"s":"k","x":160.8,"y":80},{"s":"k","x":160.6,"y":65},{"s":"k","x":160.4,"y":61},{"s":"k","x":160.2,"y":63},{"s":"k","x":160.0,"y":58},{"s":"k","x":159.8,"y":61},{"s":"k","x":159.6,"y":57},{"s":"k","x":159.4,"y":60},{"s":"k","x":159.2,"y":62},{"s":"k","x":159.0,"y":56},{"s":"k","x":158.8,"y":60},{"s":"k","x":158.6,"y":63},{"s":"k","x":158.4,"y":58},{"s":"k","x":158.2,"y":61},{"s":"k","x":158.0,"y":55},{"s":"k","x":157.8,"y":60},{"s":"k","x":157.6,"y":62},{"s":"k","x":157.4,"y":57},{"s":"k","x":157.2,"y":64},{"s":"k","x":157.0,"y":61},{"s":"k","x":156.8,"y":59},{"s":"k","x":156.6,"y":56},{"s":"k","x":156.4,"y":60},{"s":"k","x":156.2,"y":63},{"s":"k","x":156.0,"y":58},{"s":"k","x":155.8,"y":61},{"s":"k","x":155.6,"y":57},{"s":"k","x":155.4,"y":62},{"s":"k","x":155.2,"y":59},{"s":"k","x":155.0,"y":60},{"s":"k","x":154.8,"y":64},
{"s":"k","x":174.7,"y":71},{"s":"k","x":174.5,"y":70},{"s":"k","x":174.3,"y":73},{"s":"k","x":174.1,"y":69},{"s":"k","x":173.9,"y":71},{"s":"k","x":173.7,"y":75},{"s":"k","x":173.5,"y":68},{"s":"k","x":173.3,"y":70},{"s":"k","x":173.1,"y":73},{"s":"k","x":172.9,"y":67},{"s":"k","x":172.7,"y":71},{"s":"k","x":172.5,"y":69},{"s":"k","x":172.3,"y":72},{"s":"k","x":172.1,"y":68},{"s":"k","x":171.9,"y":66},{"s":"k","x":171.7,"y":70},{"s":"k","x":171.5,"y":73},{"s":"k","x":171.3,"y":67},{"s":"k","x":171.1,"y":69},{"s":"k","x":170.9,"y":71},{"s":"k","x":170.7,"y":65},{"s":"k","x":170.5,"y":67},{"s":"k","x":170.3,"y":70},{"s":"k","x":170.1,"y":68},{"s":"k","x":169.9,"y":66},{"s":"k","x":169.7,"y":64},{"s":"k","x":169.5,"y":68},{"s":"k","x":169.3,"y":71},{"s":"k","x":169.1,"y":65},{"s":"k","x":168.9,"y":67},{"s":"k","x":168.7,"y":69},{"s":"k","x":168.5,"y":63},{"s":"k","x":168.3,"y":68},{"s":"k","x":168.1,"y":70},{"s":"k","x":167.9,"y":64},{"s":"k","x":167.7,"y":67},{"s":"k","x":167.5,"y":69},{"s":"k","x":167.3,"y":66},{"s":"k","x":167.1,"y":63},{"s":"k","x":166.9,"y":68},{"s":"k","x":166.7,"y":66},{"s":"k","x":166.5,"y":70},{"s":"k","x":166.3,"y":68},{"s":"k","x":166.1,"y":72},{"s":"k","x":165.9,"y":71},{"s":"k","x":165.7,"y":74},{"s":"k","x":165.5,"y":76},{"s":"k","x":165.3,"y":78},{"s":"k","x":165.1,"y":81},{"s":"k","x":164.9,"y":86},{"s":"k","x":164.7,"y":87},{"s":"k","x":164.5,"y":96},{"s":"k","x":164.3,"y":104},{"s":"k","x":164.1,"y":118},{"s":"k","x":163.9,"y":125},{"s":"k","x":163.7,"y":147},{"s":"k","x":163.5,"y":157},{"s":"k","x":163.3,"y":170},{"s":"k","x":163.1,"y":173},{"s":"k","x":162.9,"y":172},{"s":"k","x":162.7,"y":177},{"s":"k","x":162.5,"y":175},{"s":"k","x":162.3,"y":187},{"s":"k","x":162.1,"y":193},{"s":"k","x":161.9,"y":186},{"s":"k","x":161.7,"y":176},{"s":"k","x":161.5,"y":149},{"s":"k","x":161.3,"y":124},{"s":"k","x":161.1,"y":95},{"s":"k","x":160.9,"y":83},{"s":"k","x":160.7,"y":72},{"s":"k","x":160.5,"y":64},{"s":"k","x":160.3,"y":62},{"s":"k","x":160.1,"y":59},{"s":"k","x":159.9,"y":62},{"s":"k","x":159.7,"y":58},{"s":"k","x":159.5,"y":61},{"s":"k","x":159.3,"y":57},{"s":"k","x":159.1,"y":60},{"s":"k","x":158.9,"y":63},{"s":"k","x":158.7,"y":58},{"s":"k","x":158.5,"y":61},{"s":"k","x":158.3,"y":59},{"s":"k","x":158.1,"y":62},{"s":"k","x":157.9,"y":57},{"s":"k","x":157.7,"y":60},{"s":"k","x":157.5,"y":63},{"s":"k","x":157.3,"y":58},{"s":"k","x":157.1,"y":61},{"s":"k","x":156.9,"y":59},{"s":"k","x":156.7,"y":62},{"s":"k","x":156.5,"y":57},{"s":"k","x":156.3,"y":60},{"s":"k","x":156.1,"y":58},{"s":"k","x":155.9,"y":61},{"s":"k","x":155.7,"y":59},{"s":"k","x":155.5,"y":62},{"s":"k","x":155.3,"y":58},{"s":"k","x":155.1,"y":61},{"s":"k","x":154.9,"y":60}
]},
"encoding":{
"x":{"field":"x","type":"quantitative","scale":{"domain":[154.72,175.36],"reverse":true,"nice":false,"zero":false},"axis":{"values":[170,160],"labelPadding":9,"labelFlush":false}},
"y":{"field":"y","type":"quantitative","scale":{"domain":[51.4,498.3],"nice":false,"zero":false},"axis":{"values":[100,200,300,400],"labelPadding":3}},
"color":{"field":"s","type":"nominal","legend":null,"scale":{"domain":["p","g","u","t","k","bg","ol","nv","pc","mg"],"range":["#dc28dc","#808080","#800080","#008080","#000000","#808080","#808000","#000080","#800080","#e020e0"]}}
},
"layer":[
{"data":{"name":"lines"},"mark":{"type":"line","interpolate":"monotone","strokeWidth":1,"clip":true}},
{"data":{"name":"pts"},"mark":{"type":"square","size":6,"opacity":1,"clip":true}}
]
}
